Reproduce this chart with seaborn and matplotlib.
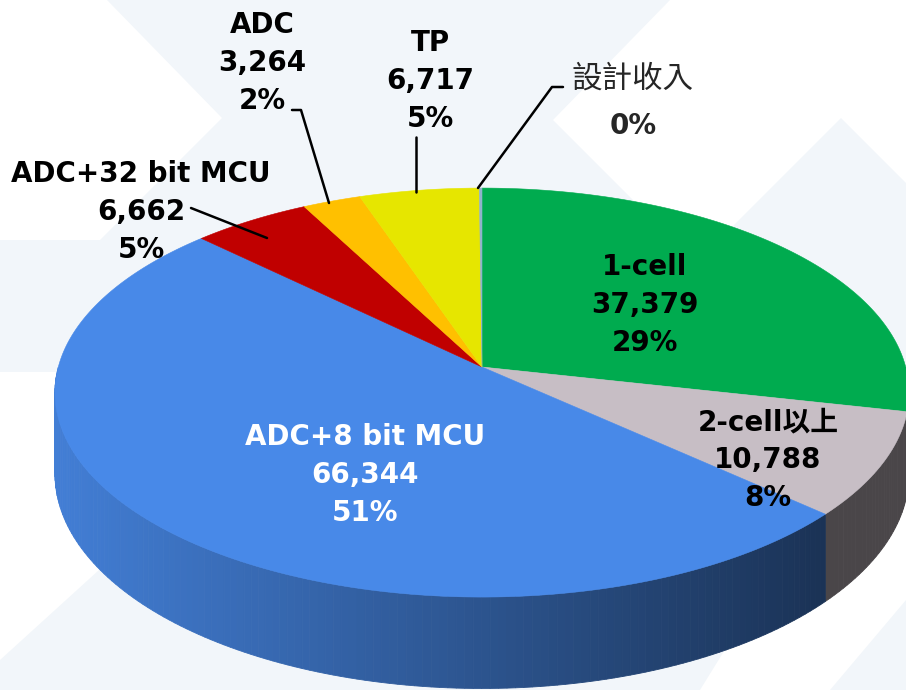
import matplotlib
matplotlib.use("Agg")
import matplotlib.pyplot as plt
import matplotlib.colors as mcolors
import seaborn as sns
import numpy as np

categories = ["1-cell", "2-cell以上", "ADC+8 bit MCU", "ADC+32 bit MCU", "ADC", "TP", "設計收入"]
values = [37379, 10788, 66344, 6662, 3264, 6717, 150]
pct_labels = ["29%", "8%", "51%", "5%", "2%", "5%", "0%"]
colors = ["#00ab4f", "#c7bec5", "#4889e8", "#c00000", "#ffc000", "#e6e600", "#8fb3cc"]

sns.set_style("white")
plt.rcParams["font.family"] = ["DejaVu Sans", "Noto Sans CJK TC"]

W, H = 906, 690
CX, CY = 482, 367        # pie centre in pixels
RX, RY = 423.7, 201.3    # radii of the tilted disc
K = 0.125                # perspective strength
DEPTH = 80               # wall height


def proj(t, r=1.0, z=0.0):
    # point on the tilted disc (angle t in degrees) -> pixel coords
    u, v = r * np.cos(np.radians(t)), r * np.sin(np.radians(t))
    s = 1.0 / (1.0 + K * v)
    return CX + RX * u * s, CY - RY * v * s + z * DEPTH * s


fig = plt.figure(figsize=(W / 100, H / 100), dpi=100)
fig.patch.set_facecolor("#f2f6fa")
ax = fig.add_axes([0, 0, 1, 1])
ax.set_facecolor("none")

# faint background shapes
bg_shapes = [
    [(0, 0), (107, 0), (222, 118), (100, 240), (0, 240)],
    [(670, 0), (906, 0), (906, 183), (841, 118), (696, 263), (553, 120)],
    [(0, 372), (60, 372), (110, 560), (0, 660)],
    [(830, 480), (906, 470), (906, 600), (830, 690), (700, 690)],
]
for poly in bg_shapes:
    xs, ys = zip(*poly)
    ax.fill(xs, ys, color="white", lw=0, zorder=0)

total = float(np.sum(values))
cum = np.concatenate([[0], np.cumsum(values)]) / total
starts = 90 - 360 * cum[:-1]
ends = 90 - 360 * cum[1:]

# side walls (front half), shaded darker to the right
for a, b, c in zip(starts, ends, colors):
    rgb = np.array(mcolors.to_rgb(c))
    for k in (-2, -1, 0):
        lo, hi = max(b, 180 + 360 * k), min(a, 360 + 360 * k)
        if hi <= lo:
            continue
        t = np.linspace(lo, hi, max(2, int(hi - lo) + 2))
        for t0, t1 in zip(t[:-1], t[1:]):
            x0, y0 = proj(t0)
            x1, y1 = proj(t1)
            _, y0b = proj(t0, z=1)
            _, y1b = proj(t1, z=1)
            xm = (x0 + x1) / 2
            f = max(0.37, 0.92 - 0.55 * (xm - 55) / 765)
            ax.fill([x0, x1, x1, x0], [y0, y1, y1b, y0b],
                    color=np.clip(rgb * f, 0, 1), lw=0.6, zorder=2)

# top face
for a, b, c in zip(starts, ends, colors):
    t = np.linspace(a, b, max(2, int(abs(a - b) * 2) + 2))
    xs, ys = proj(t)
    ax.fill(np.r_[CX, xs], np.r_[CY, ys], color=c, lw=0.4, zorder=3)


def label(x, y, s, color="black"):
    ax.text(x, y, s, ha="center", va="center", fontsize=20,
            fontweight="bold", linespacing=1.45, color=color, zorder=5)


def body(i):
    return f"{categories[i]}\n{values[i]:,}\n{pct_labels[i]}"


label(645, 305, body(0))
label(768, 460, body(1))
label(365, 475, body(2), color="white")
label(141, 212, body(3))
label(262, 63, body(4))
label(430, 81, body(5))
ax.text(633, 79, categories[6], ha="center", va="center", fontsize=22,
        family=["Noto Sans CJK TC"], zorder=5)
ax.text(633, 126, pct_labels[6], ha="center", va="center", fontsize=20,
        fontweight="bold", zorder=5)

# leader lines
leaders = [
    [(292, 110), (301, 110), (329, 203)],
    [(416, 137), (416, 192)],
    [(563, 87), (552, 87), (478, 188)],
    [(191, 208), (267, 238)],
]
for pts in leaders:
    xs, ys = zip(*pts)
    ax.plot(xs, ys, color="black", lw=1.8, zorder=4)

ax.set_xlim(0, W)
ax.set_ylim(H, 0)
ax.axis("off")

fig.savefig("out.png", dpi=100, facecolor=fig.get_facecolor())
